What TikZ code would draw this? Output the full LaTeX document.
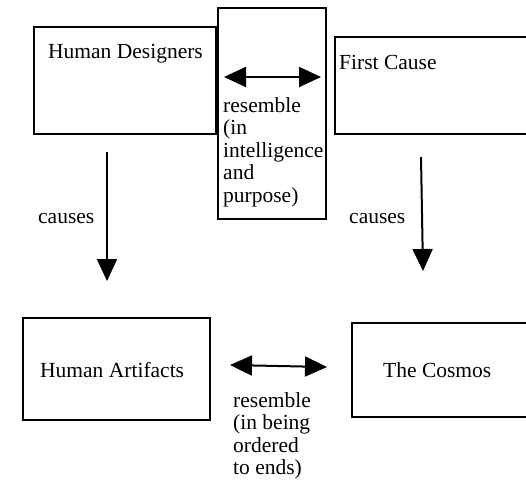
\documentclass[tikz,border=0pt]{standalone}
\usepackage{fontspec}
\setmainfont{Liberation Serif}
\usetikzlibrary{arrows.meta}
\begin{document}
\begin{tikzpicture}[x=1pt,y=-1pt,
  box/.style={draw, line width=2pt, inner sep=0pt, outer sep=0pt},
  lbl/.style={inner sep=0pt, anchor=base west, font=\fontsize{21.5}{22.6}\selectfont, align=left},
  arr/.style={line width=2pt, -{Triangle[length=22pt,width=20pt]}},
  darr/.style={line width=2pt, {Triangle[length=22pt,width=20pt]}-{Triangle[length=22pt,width=20pt]}}]
\useasboundingbox (0,0) rectangle (526,483);
\clip (0,0) rectangle (526,483);
% boxes
\node[box, minimum width=182pt, minimum height=107pt] (hd) at (125,80.5) {};
\node[box, minimum width=108pt, minimum height=211pt] (mid) at (272,113.5) {};
\node[box, minimum width=205pt, minimum height=97pt] (fc) at (437.5,85.5) {};
\node[box, minimum width=187pt, minimum height=102pt] (ha) at (116.5,369) {};
\node[box, minimum width=188pt, minimum height=94pt] (tc) at (446,370) {};
% texts (base anchor = baseline of last line)
\node[lbl] (hdt) at (48,58) {Human Designers};
\node[lbl] (fct) at (339,69) {First Cause};
\node[lbl] (midt) at (223,202.4) {resemble\\(in\\intelligence\\and\\purpose)};
\node[lbl] (hat) at (40,377) {Human Artifacts};
\node[lbl] (tct) at (383,377) {The Cosmos};
\node[lbl] (c1) at (38,223) {causes};
\node[lbl] (c2) at (349,223) {causes};
\node[lbl] (bt) at (233,474.8) {resemble\\(in being\\ordered\\to ends)};
% connector ends
\coordinate (a1s) at (107,152);
\coordinate (a1e) at (107,281);
\coordinate (a2s) at (421,157);
\coordinate (a2e) at (423,271);
\coordinate (m1) at (224,77);
\coordinate (m2) at (321,77);
\coordinate (b1) at (230,365);
\coordinate (b2) at (327,367);
\draw[arr] (a1s) -- (a1e);
\draw[arr] (a2s) -- (a2e);
\draw[darr] (m1) -- (m2);
\draw[darr] (b1) -- (b2);
\end{tikzpicture}
\end{document}
